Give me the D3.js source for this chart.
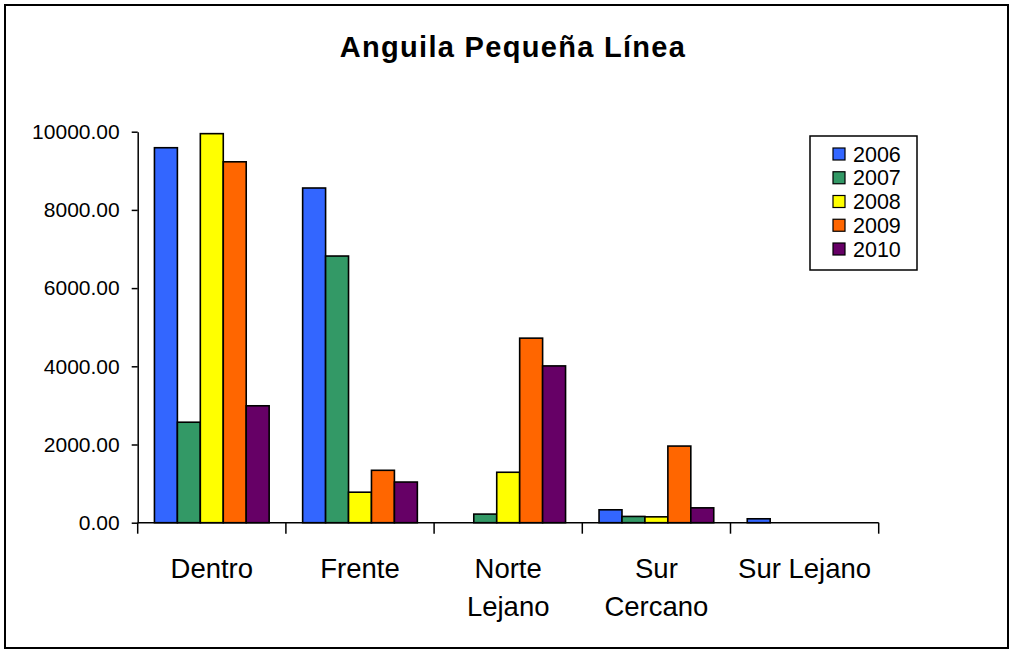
<!DOCTYPE html>
<html>
<head>
<meta charset="utf-8">
<script src="https://cdn.jsdelivr.net/npm/d3@7"></script>
<style>
  html, body { margin: 0; padding: 0; background: #fff; }
  svg { display: block; }
  text { font-family: "Liberation Sans", Arial, sans-serif; fill: #000; }
</style>
</head>
<body>
<svg id="chart" width="1013" height="652"></svg>
<script>
// ---- data ----
const categories = ["Dentro", "Frente", "Norte Lejano", "Sur Cercano", "Sur Lejano"];
const categoryLabelLines = [["Dentro"], ["Frente"], ["Norte", "Lejano"], ["Sur", "Cercano"], ["Sur Lejano"]];
const years = ["2006", "2007", "2008", "2009", "2010"];
const values2006 = [9590, 8560, 0, 330, 100];
const values2007 = [2570, 6820, 220, 160, 0];
const values2008 = [9950, 780, 1290, 150, 0];
const values2009 = [9230, 1340, 4720, 1960, 0];
const values2010 = [2990, 1040, 4010, 380, 0];
const seriesValues = [values2006, values2007, values2008, values2009, values2010];
const seriesColors = ["#3366FF", "#339966", "#FFFF00", "#FF6600", "#660066"];
const yTicks = [0, 2000, 4000, 6000, 8000, 10000];
const chartTitle = "Anguila Pequeña Línea";

// ---- layout ----
const svg = d3.select("#chart");
const plot = { left: 137.7, right: 878.7, top: 131.7, bottom: 522.7 };

// outer border
svg.append("rect")
  .attr("x", 5).attr("y", 5).attr("width", 1003).attr("height", 643)
  .attr("fill", "#fff").attr("stroke", "#000").attr("stroke-width", 2);

// title
svg.append("text")
  .attr("x", 513).attr("y", 57)
  .attr("text-anchor", "middle")
  .attr("font-size", 29).attr("font-weight", "bold")
  .attr("letter-spacing", 1.3)
  .text(chartTitle);

// scales
const x0 = d3.scaleBand().domain(categories).range([plot.left, plot.right]).paddingInner(0).paddingOuter(0);
const x1 = d3.scaleBand().domain(years).range([0, x0.bandwidth()]).paddingInner(0).paddingOuter(0.73);
const y = d3.scaleLinear().domain([0, 10000]).range([plot.bottom, plot.top]);

// bars
const barData = [];
categories.forEach((c, ci) => {
  years.forEach((yr, si) => {
    barData.push({ cat: c, year: yr, value: seriesValues[si][ci], color: seriesColors[si] });
  });
});
svg.append("g").selectAll("rect")
  .data(barData.filter(d => d.value > 0))
  .join("rect")
  .attr("x", d => x0(d.cat) + x1(d.year))
  .attr("y", d => y(d.value))
  .attr("width", x1.bandwidth())
  .attr("height", d => y(0) - y(d.value))
  .attr("fill", d => d.color)
  .attr("stroke", "#000")
  .attr("stroke-width", 1.6);

// y axis
const yAxis = svg.append("g")
  .attr("transform", `translate(${plot.left},0)`)
  .call(d3.axisLeft(y).tickValues(yTicks).tickFormat(d3.format(".2f")).tickSize(6).tickSizeOuter(0).tickPadding(12));
yAxis.selectAll("path, line").attr("stroke", "#000").attr("stroke-width", 1.5);
yAxis.selectAll("text")
  .attr("font-size", 21)
  .attr("font-family", "'Liberation Sans', Arial, sans-serif")
  .attr("fill", "#000");

// x axis line
const xg = svg.append("g");
xg.append("line")
  .attr("x1", plot.left).attr("x2", plot.right)
  .attr("y1", y(0)).attr("y2", y(0))
  .attr("stroke", "#000").attr("stroke-width", 1.5);
const boundaries = categories.map(c => x0(c)).concat([x0(categories[categories.length - 1]) + x0.bandwidth()]);
xg.selectAll("line.tick")
  .data(boundaries)
  .join("line")
  .attr("class", "tick")
  .attr("x1", d => d).attr("x2", d => d)
  .attr("y1", y(0)).attr("y2", y(0) + 11)
  .attr("stroke", "#000").attr("stroke-width", 1.5);

// category labels
const labelG = xg.selectAll("text.cat")
  .data(categories)
  .join("text")
  .attr("class", "cat")
  .attr("x", d => x0(d) + x0.bandwidth() / 2)
  .attr("y", 578)
  .attr("text-anchor", "middle")
  .attr("font-size", 27.5);
labelG.each(function(d, i) {
  const t = d3.select(this);
  categoryLabelLines[i].forEach((line, li) => {
    t.append("tspan")
      .attr("x", x0(d) + x0.bandwidth() / 2)
      .attr("dy", li === 0 ? 0 : 38)
      .text(line);
  });
});

// legend
const legend = svg.append("g");
legend.append("rect")
  .attr("x", 810).attr("y", 136).attr("width", 107).attr("height", 134)
  .attr("fill", "#fff").attr("stroke", "#000").attr("stroke-width", 1.5);
const legendRow = d3.scalePoint().domain(years).range([154, 249]);
const items = legend.selectAll("g.item")
  .data(years)
  .join("g")
  .attr("class", "item")
  .attr("transform", d => `translate(0,${legendRow(d)})`);
items.append("rect")
  .attr("x", 833).attr("y", -6).attr("width", 12).attr("height", 12)
  .attr("fill", (d, i) => seriesColors[i])
  .attr("stroke", "#000").attr("stroke-width", 1.2);
items.append("text")
  .attr("x", 853).attr("y", 7.5)
  .attr("font-size", 21.5)
  .text(d => d);
</script>
</body>
</html>
